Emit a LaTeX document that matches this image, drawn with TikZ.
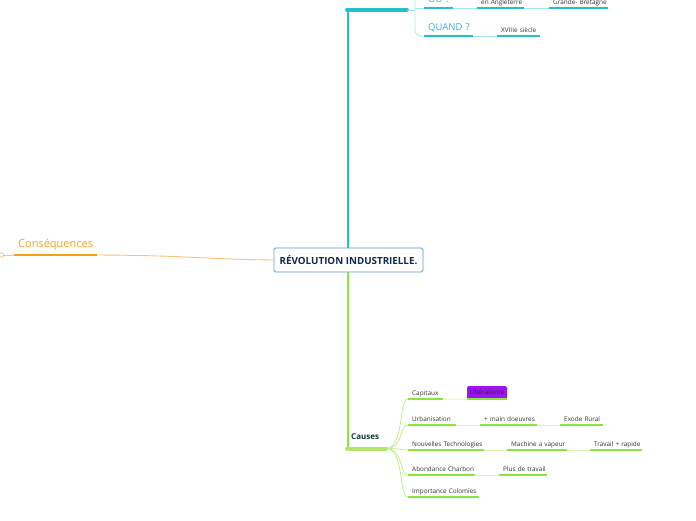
\documentclass[tikz,border=0pt]{standalone}
\usepackage{fontspec}
\setmainfont{Open Sans}
\definecolor{teal1}{HTML}{22C0CB}
\definecolor{teal2}{HTML}{A6E6EA}
\definecolor{qblue}{HTML}{2FAEE3}
\definecolor{orng}{HTML}{F5A11C}
\definecolor{orngl}{HTML}{F8C27A}
\definecolor{lime}{HTML}{86E83A}
\definecolor{limebar}{HTML}{B3E36A}
\definecolor{limebr}{HTML}{BDF08A}
\definecolor{limel}{HTML}{DAF7C0}
\definecolor{purp}{HTML}{9B14F2}
\definecolor{navy}{HTML}{0F2A4A}
\definecolor{cborder}{HTML}{5B9BD5}
\definecolor{causesc}{HTML}{0E3B2C}
\definecolor{txt}{HTML}{333333}
\begin{document}
\begin{tikzpicture}[x=1pt,y=-1pt,
  root/.style={draw=cborder, line width=0.9pt, fill=white, rounded corners=1.5pt,
    minimum width=149pt, minimum height=24pt, inner sep=0pt,
    font=\bfseries\fontsize{9.8}{11}\selectfont, text=navy},
  leaf/.style={anchor=south west, inner xsep=4pt, inner ysep=1.8pt, text height=4.6pt,
    text depth=1.3pt, align=left, font=\fontsize{6.4}{7.5}\selectfont, text=txt},
  topic/.style={anchor=south west, inner xsep=4pt, inner ysep=3pt, text height=7pt,
    text depth=2pt, align=left, font=\fontsize{9.5}{11}\selectfont, text=qblue},
  guline/.style={line width=1.6pt, draw=lime},
  gthin/.style={line width=0.9pt, draw=limel},
  gbranch/.style={line width=0.8pt, draw=limebr},
  tuline/.style={line width=1.6pt, draw=teal1},
  tthin/.style={line width=0.8pt, draw=teal2},
  libbox/.style={fill=purp, rounded corners=1.5pt, minimum width=40pt, minimum height=13pt,
    inner sep=0pt, font=\fontsize{6.4}{7.5}\selectfont, text=black!85}
]
\useasboundingbox (0,0) rectangle (696,520);
\clip (0,0) rectangle (696,520);

% central node
\node[root] (root) at (348.5,260) {RÉVOLUTION INDUSTRIELLE.};

% ---------- teal (top) ----------
\coordinate (tb0) at (347,10);
\coordinate (tb1) at (407,10);
\coordinate (tj) at (415,10);
\coordinate (ttop) at (415,-20);
\draw[teal1, line width=1.1pt] (root.north -| tb0) ++(1,0) -- ([xshift=1pt]tb0);
\draw[teal1, line width=4pt, line cap=round] (tb0) -- (tb1);
\draw[tthin] (tb1) -- (tj);

\node[topic, text width=21pt] (ou) at (424,8) {\mbox{OÙ ?}};
\node[leaf, text width=39pt] (ang) at (477,8) {\mbox{en Angleterre}};
\node[leaf, text width=51pt] (gb) at (549,8) {\mbox{Grande- Bretagne}};
\node[topic, text width=41pt] (qd) at (424,36) {\mbox{QUAND ?}};
\node[leaf, text width=35pt] (xv) at (497,36) {\mbox{XVIIIe siècle}};

\draw[tthin, rounded corners=6pt] (ttop) -- (415,36) -- (qd.south west);
\draw[tthin] (415,8) -- (ou.south west);
\foreach \n in {ou,ang,gb,qd,xv}{\draw[tuline] (\n.south west) -- (\n.south east);}
\draw[tthin] (ou.south east) -- (ang.south west);
\draw[tthin] (ang.south east) -- (gb.south west);
\draw[tthin] (qd.south east) -- (xv.south west);

% ---------- orange (left) ----------
\node[anchor=south west, inner xsep=4pt, inner ysep=5pt, text height=8pt, text depth=2.5pt,
  align=left, text width=75pt, font=\fontsize{11}{13}\selectfont, text=orng] (cons) at (14,255) {\mbox{Conséquences}};
\node[circle, draw=orngl, fill=white, line width=0.8pt, inner sep=0pt, minimum size=4.5pt] (cc) at (1.5,255) {};
\draw[orngl, line width=0.9pt] (cons.south east) .. controls (190,255.5) and (200,259) .. (root.west);
\draw[orngl, line width=0.9pt] (cons.south west) -- (cc);
\draw[orng, line width=2pt] (cons.south west) -- (cons.south east);

% ---------- green (bottom) ----------
\node[anchor=south west, inner xsep=4pt, inner ysep=0pt, text height=6pt, text depth=1.5pt,
  align=left, font=\bfseries\fontsize{8}{10}\selectfont, text=causesc,
  text width=31pt] (causes) at (347,441) {\mbox{Causes}};
\coordinate (cb0) at (347,448.5);
\coordinate (cb1) at (386,448.5);
\draw[lime, line width=1.1pt] (root.south -| cb0) ++(1,0) -- ([xshift=1pt]cb0);
\draw[limebar, line width=4pt, line cap=round] (cb0) -- (cb1);

\node[leaf, text width=27pt] (cap) at (408,399) {\mbox{Capitaux}};
\node[libbox] (lib) at (487,392.5) {Libéralisme};
\node[leaf, text width=40pt] (urb) at (408,425) {\mbox{Urbanisation}};
\node[leaf, text width=49pt] (mo) at (480,425) {\mbox{+ main doeuvres}};
\node[leaf, text width=35pt] (exo) at (560,425) {\mbox{Exode Rural}};
\node[leaf, text width=68pt] (nt) at (408,450) {\mbox{Nouvelles Technologies}};
\node[leaf, text width=52pt] (mv) at (507,450) {\mbox{Machine a vapeur}};
\node[leaf, text width=44pt] (tr) at (590,450) {\mbox{Travail + rapide}};
\node[leaf, text width=59pt] (ab) at (408,475) {\mbox{Abondance Charbon}};
\node[leaf, text width=40pt] (pt) at (499,475) {\mbox{Plus de travail}};
\node[leaf, text width=63pt] (ic) at (408,497) {\mbox{Importance Colomies}};

\foreach \n in {cap,urb,nt,ab,ic}{
  \draw[gbranch] (cb1) .. controls +(18,0) and +(-9,0) .. (\n.south west);
}
\draw[gthin] (cap.south east) -- (lib.south west);
\draw[gthin] (urb.south east) -- (mo.south west);
\draw[gthin] (mo.south east) -- (exo.south west);
\draw[gthin] (nt.south east) -- (mv.south west);
\draw[gthin] (mv.south east) -- (tr.south west);
\draw[gthin] (ab.south east) -- (pt.south west);
\foreach \n in {cap,lib,urb,mo,exo,nt,mv,tr,ab,pt,ic}{\draw[guline] (\n.south west) -- (\n.south east);}
\end{tikzpicture}
\end{document}
